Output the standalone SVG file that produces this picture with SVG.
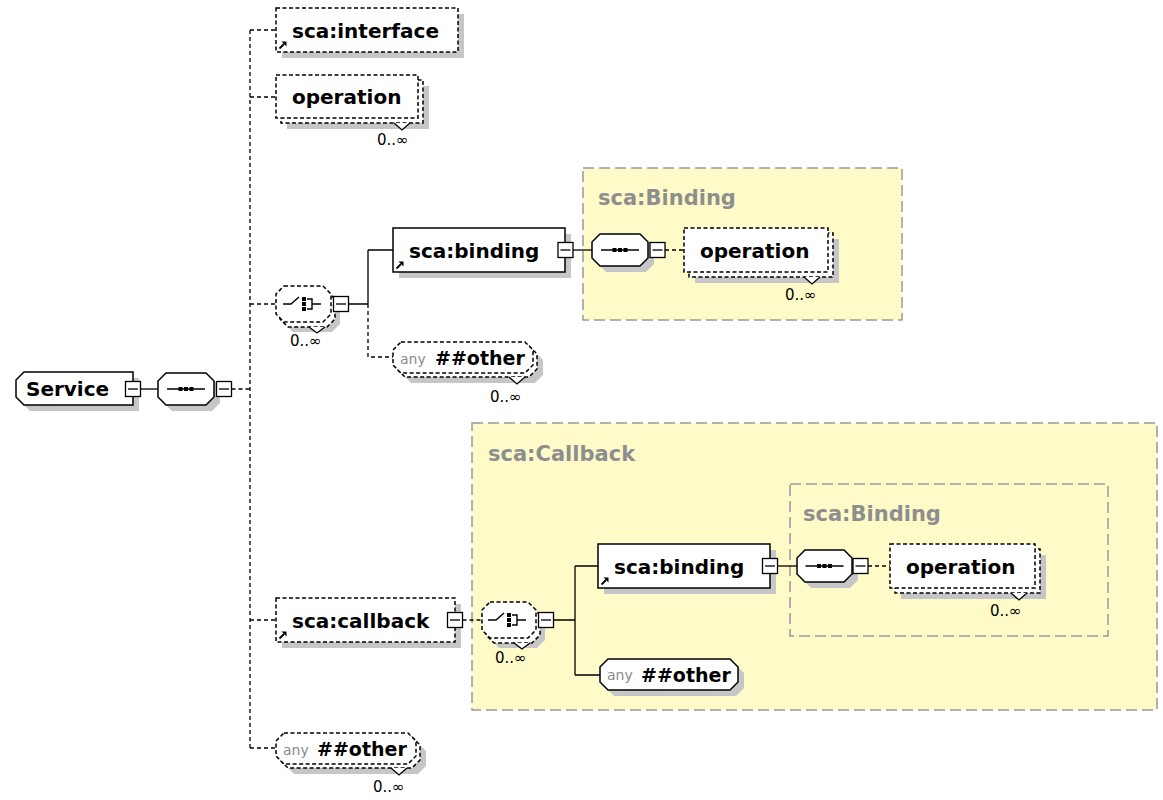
<svg xmlns="http://www.w3.org/2000/svg" xmlns:xlink="http://www.w3.org/1999/xlink" width="1163" height="800" viewBox="0 0 1163 800">
  <style>
    .bg { fill: #ffffff; }
    .grp { fill: #fefbc9; stroke: #9a9a9a; stroke-width: 1.5; stroke-dasharray: 11 5; }
    .gtitle { font-family: "DejaVu Sans", Verdana, sans-serif; font-weight: bold; font-size: 21px; fill: #8e8e8e; }
    .shadow { fill: #c6c6c8; stroke: none; }
    .node { fill: #ffffff; stroke: #000000; stroke-width: 1.5; }
    .opt { stroke-dasharray: 4 2.5; stroke-width: 1.5; }
    .label { font-family: "DejaVu Sans", Verdana, sans-serif; font-weight: bold; font-size: 20px; fill: #000000; }
    .wild { font-size: 19px; }
    .anyw { font-family: "DejaVu Sans", Verdana, sans-serif; font-size: 14px; fill: #8a8a8a; }
    .occ { font-family: "DejaVu Sans", Verdana, sans-serif; font-size: 15px; fill: #000000; }
    .con { fill: none; stroke: #000000; stroke-width: 1.3; }
    .cond { stroke-dasharray: 4 3; }
    .notch { fill: #ffffff; stroke: #000000; stroke-width: 1.3; }
  </style>
  <defs>
    <!-- collapse button -->
    <g id="mn">
      <rect x="-7.5" y="-7.5" width="15" height="15" fill="#ffffff" stroke="#000000" stroke-width="1.3"/>
      <path d="M-5,0 H5" stroke="#000000" stroke-width="1.3"/>
    </g>
    <!-- sequence compositor glyph -->
    <g id="seqi">
      <path d="M-19,0 H19" stroke="#000000" stroke-width="1.3"/>
      <rect x="-7.5" y="-2" width="4" height="4" fill="#000000"/>
      <rect x="-2" y="-2" width="4" height="4" fill="#000000"/>
      <rect x="3.5" y="-2" width="4" height="4" fill="#000000"/>
    </g>
    <!-- choice compositor glyph -->
    <g id="choi">
      <path d="M-21,0 H-13 L-5,-7" fill="none" stroke="#000000" stroke-width="1.4"/>
      <rect x="-2" y="-7" width="4" height="4" fill="#000000"/>
      <rect x="-2" y="-2" width="4" height="4" fill="#000000"/>
      <rect x="-2" y="3" width="4" height="4" fill="#000000"/>
      <path d="M3,-5 H8 V5 H3 M8,0 H17" fill="none" stroke="#000000" stroke-width="1.4"/>
    </g>
    <!-- element reference marker -->
    <g id="ref">
      <path d="M0.5,7.5 L5,3" stroke="#000000" stroke-width="1.8"/>
      <path d="M2.5,0.5 H7.5 V5.5 Z" fill="#000000"/>
    </g>
  </defs>

  <rect class="bg" x="0" y="0" width="1163" height="800"/>

  <!-- complex type boxes -->
  <g id="grp-binding-top">
    <rect class="grp" x="583" y="168" width="319" height="152"/>
    <text class="gtitle" x="598" y="205">sca:Binding</text>
  </g>
  <g id="grp-callback">
    <rect class="grp" x="472" y="423" width="685" height="287"/>
    <text class="gtitle" x="488" y="461">sca:Callback</text>
  </g>
  <g id="grp-binding-inner">
    <rect class="grp" x="790" y="484" width="318" height="152"/>
    <text class="gtitle" x="803" y="521">sca:Binding</text>
  </g>

  <!-- connectors -->
  <g id="connectors">
    <path class="con" d="M141,389 H158"/>
    <path class="con cond" d="M231.5,389 H250"/>
    <path class="con cond" d="M250,30 V748"/>
    <path class="con cond" d="M250,30 H276 M250,97 H276 M250,304 H276 M250,620 H276 M250,748 H276"/>
    <path class="con" d="M348.5,304 H368 M368,250 V304 M368,250 H393"/>
    <path class="con cond" d="M368,304 V357 H393"/>
    <path class="con" d="M573,250 H592"/>
    <path class="con cond" d="M665,250 H684"/>
    <path class="con cond" d="M462.5,620 H482"/>
    <path class="con" d="M553.5,620 H575 M575,566 V675 M575,566 H598 M575,675 H600"/>
    <path class="con" d="M777.5,566 H797"/>
    <path class="con cond" d="M868,566 H890"/>
  </g>

  <!-- root element -->
  <g id="node-service">
    <path class="shadow" transform="translate(6,6)" d="M24,372 H133 V405 H24 L16,397 V380 Z"/>
    <path class="node" d="M24,372 H133 V405 H24 L16,397 V380 Z"/>
    <text class="label" x="26" y="396">Service</text>
    <use xlink:href="#mn" x="133" y="389"/>
  </g>

  <g id="node-seq1">
    <path class="shadow" transform="translate(6,6)" d="M166,373 H206 L214,381 V397 L206,405 H166 L158,397 V381 Z"/>
    <path class="node" d="M166,373 H206 L214,381 V397 L206,405 H166 L158,397 V381 Z"/>
    <use xlink:href="#seqi" x="186" y="389"/>
    <use xlink:href="#mn" x="224" y="389"/>
  </g>

  <g id="node-interface">
    <rect class="shadow" x="282" y="14" width="182" height="44"/>
    <rect class="node opt" x="276" y="8" width="182" height="44"/>
    <text class="label" x="292" y="38">sca:interface</text>
    <use xlink:href="#ref" x="279" y="41"/>
  </g>

  <g id="node-operation1">
    <rect class="shadow" x="287" y="86" width="142" height="43"/>
    <rect class="node opt" x="281" y="80" width="142" height="43"/>
    <rect class="node opt" x="276" y="75" width="142" height="43"/>
    <path class="notch" d="M394,123 L402,130 L410,123"/>
    <text class="label" x="292" y="104">operation</text>
    <text class="occ" x="377" y="145">0..∞</text>
  </g>

  <g id="node-choice1">
    <path class="shadow" transform="translate(9,10)" d="M284,286 H323 L331,294 V314 L323,322 H284 L276,314 V294 Z"/>
    <path class="node opt" transform="translate(4,5)" d="M284,286 H323 L331,294 V314 L323,322 H284 L276,314 V294 Z"/>
    <path class="node opt" d="M284,286 H323 L331,294 V314 L323,322 H284 L276,314 V294 Z"/>
    <path class="notch" d="M309,327 L317,333 L325,327"/>
    <use xlink:href="#choi" x="304" y="304"/>
    <use xlink:href="#mn" x="341" y="304"/>
    <text class="occ" x="290" y="346">0..∞</text>
  </g>

  <g id="node-binding1">
    <rect class="shadow" x="399" y="234" width="172" height="44"/>
    <rect class="node" x="393" y="228" width="172" height="44"/>
    <text class="label" x="409" y="258">sca:binding</text>
    <use xlink:href="#ref" x="396" y="261"/>
    <use xlink:href="#mn" x="565.5" y="250"/>
  </g>

  <g id="node-seq2">
    <path class="shadow" transform="translate(6,6)" d="M600,234 H640 L648,242 V258 L640,266 H600 L592,258 V242 Z"/>
    <path class="node" d="M600,234 H640 L648,242 V258 L640,266 H600 L592,258 V242 Z"/>
    <use xlink:href="#seqi" x="620" y="250"/>
    <use xlink:href="#mn" x="657.5" y="250"/>
  </g>

  <g id="node-operation2">
    <rect class="shadow" x="695" y="239" width="144" height="44"/>
    <rect class="node opt" x="689" y="233" width="144" height="44"/>
    <rect class="node opt" x="684" y="228" width="144" height="44"/>
    <path class="notch" d="M804,277 L812,284 L820,277"/>
    <text class="label" x="700" y="258">operation</text>
    <text class="occ" x="785" y="300">0..∞</text>
  </g>

  <g id="node-any1">
    <path class="shadow" transform="translate(10,10)" d="M401,342 H525 L533,350 V365 L525,373 H401 L393,365 V350 Z"/>
    <path class="node opt" transform="translate(4,4)" d="M401,342 H525 L533,350 V365 L525,373 H401 L393,365 V350 Z"/>
    <path class="node opt" d="M401,342 H525 L533,350 V365 L525,373 H401 L393,365 V350 Z"/>
    <path class="notch" d="M509,377 L517,384 L525,377"/>
    <text class="anyw" x="400" y="364">any</text>
    <text class="label wild" x="435" y="365">##other</text>
    <text class="occ" x="490" y="402">0..∞</text>
  </g>

  <g id="node-callback">
    <rect class="shadow" x="282" y="604" width="179" height="44"/>
    <rect class="node opt" x="276" y="598" width="179" height="44"/>
    <text class="label" x="292" y="628">sca:callback</text>
    <use xlink:href="#ref" x="279" y="631"/>
    <use xlink:href="#mn" x="455" y="620"/>
  </g>

  <g id="node-choice2">
    <path class="shadow" transform="translate(9,10)" d="M490,602 H528 L536,610 V630 L528,638 H490 L482,630 V610 Z"/>
    <path class="node opt" transform="translate(4,5)" d="M490,602 H528 L536,610 V630 L528,638 H490 L482,630 V610 Z"/>
    <path class="node opt" d="M490,602 H528 L536,610 V630 L528,638 H490 L482,630 V610 Z"/>
    <path class="notch" d="M514,643 L522,649 L530,643"/>
    <use xlink:href="#choi" x="509" y="620"/>
    <use xlink:href="#mn" x="546" y="620"/>
    <text class="occ" x="495" y="663">0..∞</text>
  </g>

  <g id="node-binding2">
    <rect class="shadow" x="604" y="550" width="172" height="44"/>
    <rect class="node" x="598" y="544" width="172" height="44"/>
    <text class="label" x="614" y="574">sca:binding</text>
    <use xlink:href="#ref" x="601" y="577"/>
    <use xlink:href="#mn" x="770" y="566"/>
  </g>

  <g id="node-seq3">
    <path class="shadow" transform="translate(6,6)" d="M805,550 H844 L852,558 V574 L844,582 H805 L797,574 V558 Z"/>
    <path class="node" d="M805,550 H844 L852,558 V574 L844,582 H805 L797,574 V558 Z"/>
    <use xlink:href="#seqi" x="824.5" y="566"/>
    <use xlink:href="#mn" x="860.5" y="566"/>
  </g>

  <g id="node-operation3">
    <rect class="shadow" x="901" y="555" width="145" height="44"/>
    <rect class="node opt" x="895" y="549" width="145" height="44"/>
    <rect class="node opt" x="890" y="544" width="145" height="44"/>
    <path class="notch" d="M1011,593 L1019,600 L1027,593"/>
    <text class="label" x="906" y="574">operation</text>
    <text class="occ" x="990" y="616">0..∞</text>
  </g>

  <g id="node-any2">
    <path class="shadow" transform="translate(6,6)" d="M608,659 H730 L738,667 V682 L730,690 H608 L600,682 V667 Z"/>
    <path class="node" d="M608,659 H730 L738,667 V682 L730,690 H608 L600,682 V667 Z"/>
    <text class="anyw" x="607" y="680">any</text>
    <text class="label wild" x="641" y="682">##other</text>
  </g>

  <g id="node-any3">
    <path class="shadow" transform="translate(10,10)" d="M284,733 H408 L416,741 V756 L408,764 H284 L276,756 V741 Z"/>
    <path class="node opt" transform="translate(4,4)" d="M284,733 H408 L416,741 V756 L408,764 H284 L276,756 V741 Z"/>
    <path class="node opt" d="M284,733 H408 L416,741 V756 L408,764 H284 L276,756 V741 Z"/>
    <path class="notch" d="M391,768 L399,775 L407,768"/>
    <text class="anyw" x="283" y="755">any</text>
    <text class="label wild" x="317" y="756">##other</text>
    <text class="occ" x="373" y="792">0..∞</text>
  </g>
</svg>
